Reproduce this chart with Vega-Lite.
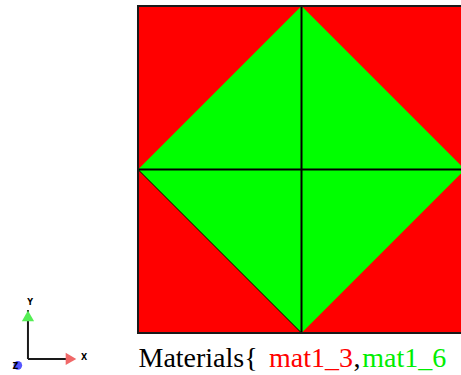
{
  "$schema": "https://vega.github.io/schema/vega-lite/v6.json",
  "width": 461,
  "height": 375,
  "autosize": "none",
  "padding": 0,
  "background": "white",
  "config": {"view": {"stroke": null}},
  "datasets": {
    "square": [{"x": -1, "x2": 1, "y": -1, "y2": 1}],
    "diamond": [{"x": -1, "lo": 0, "hi": 0}, {"x": 0, "lo": -1, "hi": 1}, {"x": 1, "lo": 0, "hi": 0}],
    "edges": [
      {"x": 0, "y": -1, "x2": 0, "y2": 1, "w": "thick"},
      {"x": -1, "y": 0, "x2": 1, "y2": 0, "w": "thick"},
      {"x": -1, "y": 0, "x2": 0, "y2": -1, "w": "thin"}
    ],
    "triadLines": [
      {"x": -1.673, "y": -1.159, "x2": -1.673, "y2": -0.86},
      {"x": -1.673, "y": -1.159, "x2": -1.44, "y2": -1.159}
    ],
    "conesY": [{"x": -1.673, "y": -0.895}],
    "conesX": [{"x": -1.41, "y": -1.159}],
    "zdot": [{"x": -1.735, "y": -1.198}],
    "triadLabels": [
      {"x": -1.66, "y": -0.818, "t": "Y"},
      {"x": -1.33, "y": -1.155, "t": "X"},
      {"x": -1.75, "y": -1.207, "t": "Z"}
    ],
    "legend": [
      {"x": -0.997, "y": -1.208, "part": "Materials{", "c": "k"},
      {"x": -0.199, "y": -1.208, "part": "mat1_3", "c": "r"},
      {"x": 0.318, "y": -1.208, "part": ",", "c": "k"},
      {"x": 0.372, "y": -1.208, "part": "mat1_6", "c": "g"}
    ]
  },
  "encoding": {
    "x": {"type": "quantitative", "scale": {"domain": [-1.844, 0.9755], "nice": false, "zero": false}, "axis": null},
    "y": {"type": "quantitative", "scale": {"domain": [-1.2569, 1.0367], "nice": false, "zero": false}, "axis": null}
  },
  "layer": [
    {
      "data": {"name": "square"},
      "mark": {"type": "rect", "fill": "#ff0000"},
      "encoding": {"x": {"field": "x", "type": "quantitative"}, "x2": {"field": "x2"}, "y": {"field": "y", "type": "quantitative"}, "y2": {"field": "y2"}}
    },
    {
      "data": {"name": "diamond"},
      "mark": {"type": "area", "fill": "#00ff00", "opacity": 1},
      "encoding": {"x": {"field": "x", "type": "quantitative"}, "y": {"field": "lo", "type": "quantitative"}, "y2": {"field": "hi"}}
    },
    {
      "data": {"name": "edges"},
      "mark": {"type": "rule", "color": "#000000"},
      "encoding": {
        "x": {"field": "x", "type": "quantitative"}, "x2": {"field": "x2"},
        "y": {"field": "y", "type": "quantitative"}, "y2": {"field": "y2"},
        "strokeWidth": {"field": "w", "type": "nominal", "scale": {"domain": ["thick", "thin"], "range": [2, 1]}, "legend": null}
      }
    },
    {
      "data": {"name": "square"},
      "mark": {"type": "rect", "fill": null, "fillOpacity": 0, "stroke": "#1a1a1a", "strokeWidth": 2},
      "encoding": {"x": {"field": "x", "type": "quantitative"}, "x2": {"field": "x2"}, "y": {"field": "y", "type": "quantitative"}, "y2": {"field": "y2"}}
    },
    {
      "data": {"name": "triadLines"},
      "mark": {"type": "rule", "color": "#1a1a1a", "strokeWidth": 2},
      "encoding": {"x": {"field": "x", "type": "quantitative"}, "x2": {"field": "x2"}, "y": {"field": "y", "type": "quantitative"}, "y2": {"field": "y2"}}
    },
    {
      "data": {"name": "conesY"},
      "mark": {"type": "point", "filled": true, "opacity": 1, "size": 150, "shape": "triangle-up", "color": "#55ee55"},
      "encoding": {"x": {"field": "x", "type": "quantitative"}, "y": {"field": "y", "type": "quantitative"}}
    },
    {
      "data": {"name": "conesX"},
      "mark": {"type": "point", "filled": true, "opacity": 1, "size": 150, "shape": "triangle-right", "color": "#f06868"},
      "encoding": {"x": {"field": "x", "type": "quantitative"}, "y": {"field": "y", "type": "quantitative"}}
    },
    {
      "data": {"name": "zdot"},
      "mark": {"type": "point", "filled": true, "opacity": 1, "size": 75, "shape": "circle", "color": "#5555ff"},
      "encoding": {"x": {"field": "x", "type": "quantitative"}, "y": {"field": "y", "type": "quantitative"}}
    },
    {
      "data": {"name": "triadLabels"},
      "mark": {"type": "text", "font": "DejaVu Sans", "fontSize": 8, "fontWeight": "bold", "color": "#000000", "align": "center", "baseline": "middle"},
      "encoding": {"x": {"field": "x", "type": "quantitative"}, "y": {"field": "y", "type": "quantitative"}, "text": {"field": "t"}}
    },
    {
      "data": {"name": "legend"},
      "mark": {"type": "text", "font": "Liberation Serif", "fontSize": 28, "align": "left", "baseline": "alphabetic"},
      "encoding": {
        "x": {"field": "x", "type": "quantitative"}, "y": {"field": "y", "type": "quantitative"},
        "text": {"field": "part"},
        "color": {"field": "c", "type": "nominal", "scale": {"domain": ["k", "r", "g"], "range": ["#000000", "#ff0000", "#00ee00"]}, "legend": null}
      }
    }
  ]
}
